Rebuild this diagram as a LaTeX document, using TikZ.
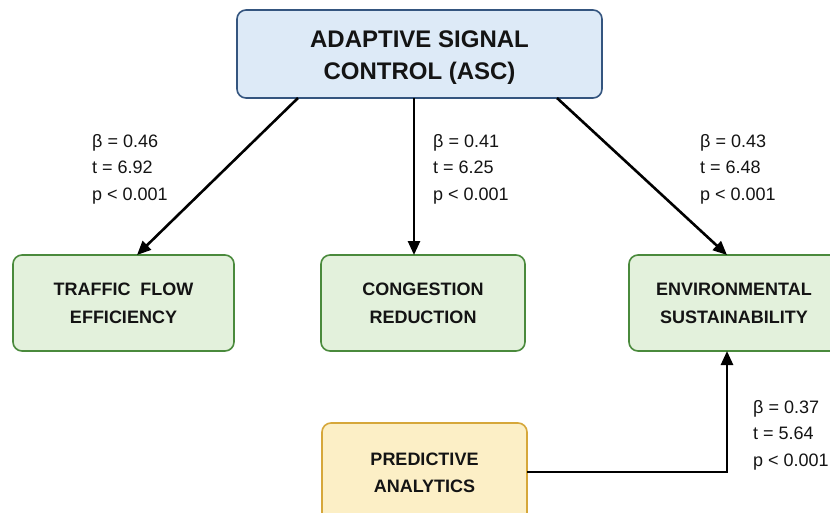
\documentclass[tikz,border=0pt]{standalone}
\usepackage{fontspec}
\setmainfont{Liberation Sans}
\usetikzlibrary{arrows.meta,positioning}
\definecolor{bluefill}{HTML}{DDEAF7}
\definecolor{blueline}{HTML}{34557F}
\definecolor{greenfill}{HTML}{E3F1DC}
\definecolor{greenline}{HTML}{4A8A3C}
\definecolor{yelfill}{HTML}{FCEFC6}
\definecolor{yelline}{HTML}{D6A73A}
\definecolor{txt}{HTML}{141414}
\tikzset{
  box/.style={draw, rounded corners=9pt, line width=1.6pt, align=center, text=txt, inner sep=0pt},
  topbox/.style={box, fill=bluefill, draw=blueline, minimum width=365pt, minimum height=88pt},
  toptext/.style={align=center, text=txt, inner sep=0pt, font=\bfseries\fontsize{24}{32}\selectfont},
  gbox/.style={box, fill=greenfill, draw=greenline, minimum height=96pt, font=\bfseries\fontsize{18}{28}\selectfont},
  ybox/.style={box, fill=yelfill, draw=yelline, minimum height=100pt, font=\bfseries\fontsize{18}{27}\selectfont},
  conn/.style={line width=2.6pt, draw=black, -{Triangle[length=14pt,width=12pt]}},
  stat/.style={align=left, anchor=north west, inner sep=0pt, text=txt, font=\fontsize{18}{26.5}\selectfont}
}
\begin{document}
\begin{tikzpicture}[x=1pt,y=-1pt]
\useasboundingbox (0,0) rectangle (830,512);
\fill[white] (0,0) rectangle (830,512);
\node[topbox] (asc) at (419.5,54) {};
\node[toptext] (asc-t) at (419.5,58) {ADAPTIVE SIGNAL\\CONTROL (ASC)};
\node[gbox, minimum width=221pt] (tfe) at (123.5,303) {TRAFFIC\ \ FLOW\\EFFICIENCY};
\node[gbox, minimum width=204pt] (cr) at (423,303) {CONGESTION\\REDUCTION};
\node[gbox, minimum width=210pt] (es) at (734,303) {ENVIRONMENTAL\\SUSTAINABILITY};
\node[ybox, minimum width=205pt] (pa) at (424.5,473) {PREDICTIVE\\ANALYTICS};
\coordinate (a1) at (298,98);
\coordinate (a2) at (414,98);
\coordinate (a3) at (557,98);
\coordinate (b1) at (137,255);
\coordinate (b2) at (414,255);
\coordinate (b3) at (727,255);
\coordinate (es-b) at (727,351);
\coordinate (pa-r) at (527,472);
\draw[conn] (a1) -- (b1);
\draw[conn] (a2) -- (b2);
\draw[conn] (a3) -- (b3);
\draw[conn] (pa-r) -| (es-b);
\node[stat] (s1) at (92,134) {β = 0.46\\t = 6.92\\p < 0.001};
\node[stat] (s2) at (433,134) {β = 0.41\\t = 6.25\\p < 0.001};
\node[stat] (s3) at (700,134) {β = 0.43\\t = 6.48\\p < 0.001};
\node[stat] (s4) at (753,400) {β = 0.37\\t = 5.64\\p < 0.001};
\end{tikzpicture}
\end{document}
